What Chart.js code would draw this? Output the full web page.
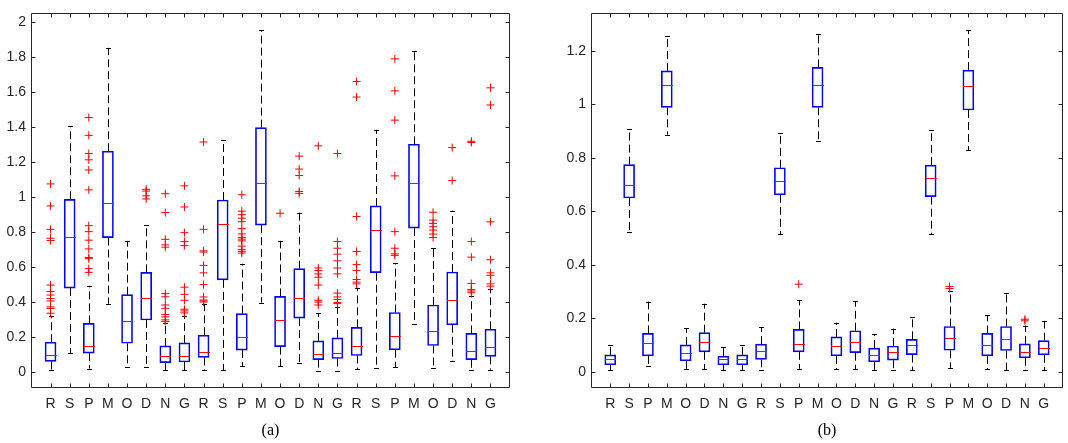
<!DOCTYPE html>
<html>
<head>
<meta charset="utf-8">
<script src="https://cdn.jsdelivr.net/npm/chart.js@4.4.1/dist/chart.umd.min.js"></script>
<style>
  body { margin: 0; background: #fff; }
  .painel { position: absolute; top: 0; width: 534px; height: 443px; }
</style>
</head>
<body>
<div class="painel" style="left:0"><canvas id="chartA" width="534" height="443"></canvas></div>
<div class="painel" style="left:534px"><canvas id="chartB" width="534" height="443"></canvas></div>
<script>
// categorias do eixo x (3 grupos de 8)
const categorias = ['R','S','P','M','O','D','N','G','R','S','P','M','O','D','N','G','R','S','P','M','O','D','N','G'];

// painel (a)
const yTicksA = [0, 0.2, 0.4, 0.6, 0.8, 1, 1.2, 1.4, 1.6, 1.8, 2];
const minA = [0.01,0.108,0.019,0.391,0.028,0.03,0.009,0.01,0.01,0.009,0.032,0.397,0.034,0.051,0.008,0.008,0.015,0.021,0.028,0.274,0.021,0.062,0.011,0.013];
const q1A  = [0.06,0.48,0.108,0.769,0.164,0.297,0.053,0.057,0.083,0.527,0.125,0.84,0.145,0.308,0.07,0.077,0.094,0.568,0.127,0.823,0.151,0.27,0.07,0.089];
const medA = [0.098,0.772,0.151,0.969,0.291,0.421,0.089,0.093,0.115,0.844,0.202,1.084,0.3,0.423,0.1,0.111,0.151,0.812,0.208,1.084,0.236,0.412,0.119,0.144];
const q3A  = [0.17,0.988,0.278,1.263,0.442,0.57,0.149,0.166,0.21,0.984,0.334,1.398,0.432,0.591,0.178,0.195,0.255,0.95,0.34,1.303,0.383,0.572,0.221,0.244];
const maxA = [0.32,1.407,0.493,1.855,0.75,0.84,0.28,0.32,0.39,1.326,0.619,1.955,0.75,0.912,0.336,0.372,0.482,1.386,0.623,1.838,0.708,0.923,0.434,0.472];
const outA = [
  [1.076,0.95,0.816,0.765,0.752,0.497,0.46,0.44,0.42,0.406,0.372,0.363,0.336],
  [],
  [1.456,1.354,1.25,1.214,1.156,1.042,0.837,0.803,0.754,0.704,0.655,0.648,0.591,0.57],
  [],
  [],
  [1.045,1.035,1.008,0.99],
  [1.02,0.912,0.759,0.727,0.714,0.448,0.43,0.383,0.364,0.329,0.315,0.298,0.289],
  [1.065,0.944,0.797,0.746,0.723,0.485,0.444,0.41,0.359,0.349,0.338],
  [1.316,0.816,0.693,0.686,0.61,0.567,0.5,0.429,0.412,0.406,0.4],
  [],
  [1.014,0.92,0.9,0.88,0.86,0.82,0.79,0.77,0.76,0.75,0.72,0.7,0.69,0.68],
  [],
  [0.908],
  [1.235,1.161,1.124,1.033,1.022],
  [1.294,0.595,0.58,0.561,0.542,0.497,0.41,0.4,0.383],
  [1.25,0.746,0.708,0.674,0.636,0.595,0.561,0.451,0.429,0.415,0.397,0.391],
  [1.662,1.573,0.89,0.689,0.614,0.58,0.529,0.514,0.504],
  [],
  [1.792,1.609,1.441,1.122,0.803,0.708,0.676,0.667],
  [],
  [0.914,0.869,0.85,0.831,0.812,0.789,0.769],
  [1.284,1.095],
  [1.32,1.313,0.746,0.657,0.506,0.472,0.463,0.453],
  [1.626,1.528,0.859,0.642,0.567,0.553,0.504,0.491]
];

// painel (b)
const yTicksB = [0, 0.2, 0.4, 0.6, 0.8, 1, 1.2];
const minB = [0.006,0.522,0.021,0.887,0.012,0.01,0.006,0.006,0.009,0.514,0.012,0.862,0.01,0.011,0.007,0.007,0.007,0.514,0.015,0.829,0.011,0.006,0.006,0.007];
const q1B  = [0.027,0.65,0.06,0.989,0.042,0.075,0.027,0.027,0.047,0.662,0.075,0.989,0.06,0.072,0.038,0.044,0.065,0.655,0.081,0.979,0.06,0.08,0.053,0.064];
const medB = [0.049,0.699,0.109,1.072,0.072,0.111,0.047,0.049,0.078,0.712,0.106,1.072,0.096,0.112,0.064,0.073,0.099,0.724,0.125,1.067,0.099,0.123,0.076,0.091];
const q3B  = [0.064,0.775,0.144,1.125,0.101,0.147,0.059,0.064,0.104,0.763,0.159,1.138,0.131,0.154,0.089,0.097,0.122,0.773,0.17,1.128,0.144,0.17,0.105,0.117];
const maxB = [0.099,0.909,0.263,1.256,0.163,0.255,0.093,0.099,0.167,0.893,0.269,1.262,0.184,0.265,0.142,0.162,0.204,0.904,0.302,1.277,0.212,0.295,0.173,0.191];
const outB = [[],[],[],[],[],[],[],[],[],[],[0.328],[],[],[],[],[],[],[],[0.319,0.312],[],[],[],[0.197,0.191],[]];

const corEixo = '#262626';

// bigodes, medianas e moldura com ticks para dentro
const boxPlugin = {
  id: 'boxes',
  beforeDatasetsDraw(chart, args, o) {
    const ctx = chart.ctx, x = chart.scales.x, y = chart.scales.y;
    ctx.save();
    ctx.strokeStyle = '#000';
    ctx.lineWidth = 1;
    o.min.forEach((lo, i) => {
      const px = Math.round(x.getPixelForValue(i + 1)) + 0.5;
      const yLo = y.getPixelForValue(lo), yHi = y.getPixelForValue(o.max[i]);
      ctx.setLineDash([8, 4]);
      ctx.beginPath();
      ctx.moveTo(px, y.getPixelForValue(o.q3[i])); ctx.lineTo(px, yHi);
      ctx.moveTo(px, y.getPixelForValue(o.q1[i])); ctx.lineTo(px, yLo);
      ctx.stroke();
      ctx.setLineDash([]);
      ctx.beginPath();
      ctx.moveTo(px - 2.5, Math.round(yHi) + 0.5); ctx.lineTo(px + 2.5, Math.round(yHi) + 0.5);
      ctx.moveTo(px - 2.5, Math.round(yLo) + 0.5); ctx.lineTo(px + 2.5, Math.round(yLo) + 0.5);
      ctx.stroke();
    });
    ctx.restore();
  },
  afterDatasetsDraw(chart, args, o) {
    const ctx = chart.ctx, x = chart.scales.x, y = chart.scales.y;
    ctx.save();
    ctx.strokeStyle = '#ff0000';
    ctx.lineWidth = 1;
    o.med.forEach((m, i) => {
      const px = Math.round(x.getPixelForValue(i + 1));
      const py = Math.round(y.getPixelForValue(m)) + 0.5;
      ctx.beginPath();
      ctx.moveTo(px - 5, py); ctx.lineTo(px + 6, py);
      ctx.stroke();
    });
    // moldura
    const a = chart.chartArea;
    const L = Math.round(a.left) + 0.5, R = Math.round(a.right) - 0.5;
    const T = Math.round(a.top) + 0.5, B = Math.round(a.bottom) - 0.5;
    ctx.strokeStyle = corEixo;
    ctx.beginPath();
    ctx.rect(L, T, R - L, B - T);
    x.ticks.forEach(t => {
      const px = Math.round(x.getPixelForValue(t.value)) + 0.5;
      ctx.moveTo(px, B); ctx.lineTo(px, B - 4);
      ctx.moveTo(px, T); ctx.lineTo(px, T + 4);
    });
    y.ticks.forEach(t => {
      const py = Math.round(y.getPixelForValue(t.value)) + 0.5;
      ctx.moveTo(L, py); ctx.lineTo(L + 4, py);
      ctx.moveTo(R, py); ctx.lineTo(R - 4, py);
    });
    ctx.stroke();
    ctx.restore();
  }
};

function montaGrafico(id, d) {
  const caixas = d.q1.map((v, i) => ({x: i + 1, y: [v, d.q3[i]]}));
  const pontos = [];
  d.out.forEach((lista, i) => lista.forEach(v => pontos.push({x: i + 1, y: v})));
  return new Chart(document.getElementById(id), {
    type: 'bar',
    data: {
      datasets: [
        {
          type: 'bar',
          data: caixas,
          backgroundColor: 'rgba(0,0,0,0)',
          borderColor: '#0000ff',
          borderWidth: 1,
          borderSkipped: false,
          barThickness: 11
        },
        {
          type: 'scatter',
          data: pontos,
          pointStyle: 'cross',
          radius: 4,
          borderColor: '#ff0000',
          borderWidth: 1,
          showLine: false
        }
      ]
    },
    options: {
      responsive: false,
      animation: false,
      events: [],
      layout: {padding: d.padding},
      plugins: {
        legend: {display: false},
        tooltip: {enabled: false},
        boxes: {min: d.min, q1: d.q1, med: d.med, q3: d.q3, max: d.max}
      },
      scales: {
        x: {
          type: 'linear',
          min: 0.5,
          max: 24.5,
          grid: {display: false, drawTicks: false},
          border: {display: false},
          afterBuildTicks: s => { s.ticks = categorias.map((c, i) => ({value: i + 1})); },
          afterFit: s => { s.height = 55; },
          ticks: {
            autoSkip: false,
            maxRotation: 0,
            padding: 8,
            color: corEixo,
            font: {family: 'Liberation Sans', size: 14},
            callback: v => categorias[v - 1]
          },
          title: {
            display: true,
            text: d.legenda,
            color: '#000',
            padding: {top: 0, bottom: 3},
            font: {family: 'Liberation Serif', size: 16}
          }
        },
        y: {
          min: d.yMin,
          max: d.yMax,
          grid: {display: false, drawTicks: false},
          border: {display: false},
          afterBuildTicks: s => { s.ticks = d.yTicks.map(v => ({value: v})); },
          afterFit: s => { s.width = d.yWidth; },
          ticks: {
            padding: 5,
            color: corEixo,
            font: {family: 'Liberation Sans', size: 14},
            callback: v => String(+v.toFixed(1))
          }
        }
      }
    },
    plugins: [boxPlugin]
  });
}

montaGrafico('chartA', {
  min: minA, q1: q1A, med: medA, q3: q3A, max: maxA, out: outA,
  yTicks: yTicksA, yMin: -0.092, yMax: 2.052, yWidth: 31,
  padding: {left: 0, right: 24, top: 10, bottom: 0}, legenda: '(a)'
});
montaGrafico('chartB', {
  min: minB, q1: q1B, med: medB, q3: q3B, max: maxB, out: outB,
  yTicks: yTicksB, yMin: -0.06, yMax: 1.34, yWidth: 57,
  padding: {left: 0, right: 2, top: 10, bottom: 0}, legenda: '(b)'
});
</script>
</body>
</html>
